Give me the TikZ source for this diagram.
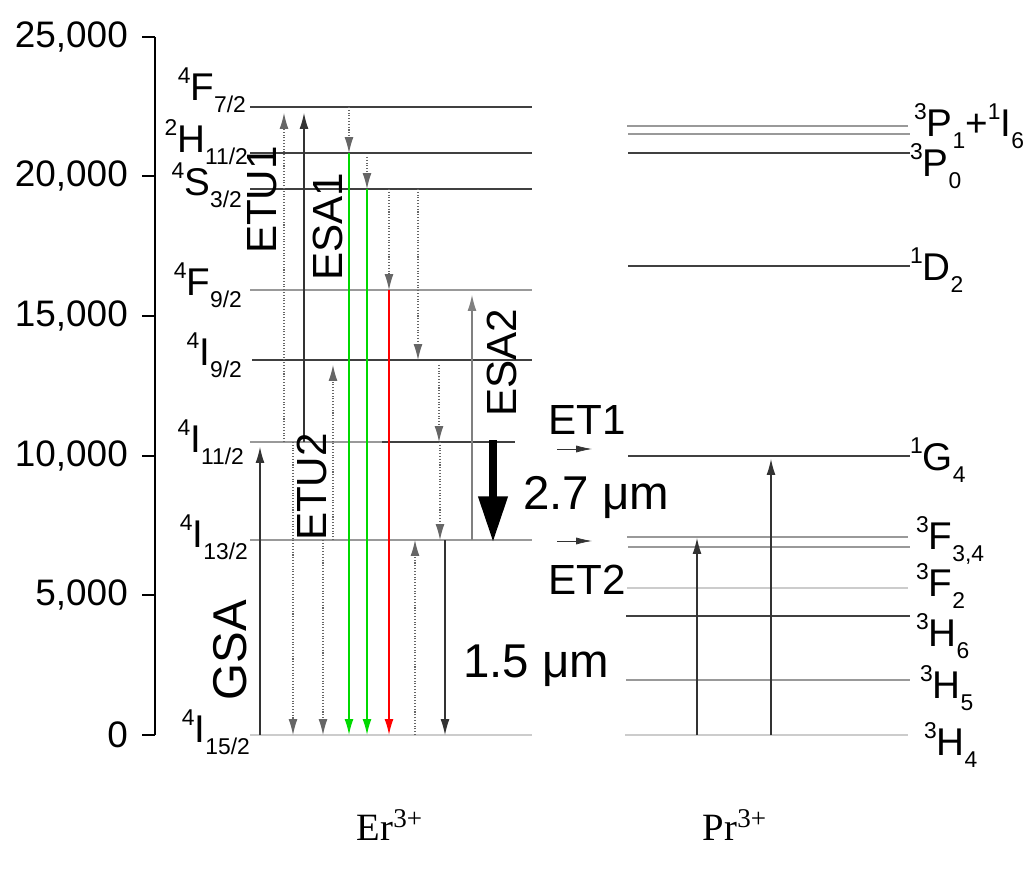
\documentclass[tikz,border=0pt]{standalone}
\usepackage{fontspec}
\setmainfont{Liberation Sans}
\newfontfamily\serif{Liberation Serif}
\usetikzlibrary{arrows.meta}
\newcommand{\lv}[3]{\raisebox{0.45em}{\fontsize{13}{13}\selectfont #1}#2\raisebox{-0.3em}{\fontsize{13}{13}\selectfont #3}}
\begin{document}
\begin{tikzpicture}[x=0.02cm,y=-0.02cm,
  lev/.style={line width=0.6pt,black!75},
  levg/.style={line width=1.4pt,black!40},
  levl/.style={line width=1.4pt,black!20},
  tip/.style={-{Latex[length=9pt,width=5pt]}},
  dots/.style={tip,densely dotted,black!60,line width=0.6pt},
  sol/.style={tip,black!80,line width=0.6pt},
  lab/.style={font=\fontsize{22}{22}\selectfont,anchor=east,inner sep=1pt},
  plab/.style={font=\fontsize{22}{22}\selectfont,anchor=west,inner sep=1pt},
  big/.style={font=\fontsize{24}{24}\selectfont},
  tk/.style={font=\fontsize{21}{21}\selectfont,anchor=east}]
\useasboundingbox (0,0) rectangle (1024,871);
\fill[white] (0,0) rectangle (1024,871);
% axis
\draw[line width=0.9pt] (155,37) -- (155,735);
\foreach \v/\y in {25{,}000/37,20{,}000/176,15{,}000/316,10{,}000/456,5{,}000/595,0/735}{
  \draw[line width=0.9pt] (142,\y) -- (155,\y);
  \node[tk] at (134,\y) {\v};}
% Er levels
\draw[lev] (250,107) -- (532,107);
\draw[lev] (250,153) -- (532,153);
\draw[lev] (250,189) -- (532,189);
\draw[levg] (250,290) -- (532,290);
\draw[lev] (252,360) -- (532,360);
\draw[levg] (250,442) -- (382,442); \draw[lev] (382,442) -- (515,442);
\draw[levg] (250,540) -- (532,540);
\draw[levl] (250,735) -- (532,735);
\node[lab] at (248,90) {\lv{4}{F}{7/2}};
\node[lab] at (250,142) {\lv{2}{H}{11/2}};
\node[lab] at (244,185) {\lv{4}{S}{3/2}};
\node[lab] at (244,285) {\lv{4}{F}{9/2}};
\node[lab] at (244,355) {\lv{4}{I}{9/2}};
\node[lab] at (246,442) {\lv{4}{I}{11/2}};
\node[lab] at (250,537) {\lv{4}{I}{13/2}};
\node[lab] at (252,732) {\lv{4}{I}{15/2}};
% Er arrows
\draw[dots] (284,442) -- (284,113);
\draw[sol] (304,442) -- (304,113);
\draw[dots] (349,107) -- (349,153);
\draw[tip,green!85!black,line width=0.8pt] (349,153) -- (349,735);
\draw[dots] (367,157) -- (367,189);
\draw[tip,green!85!black,line width=0.8pt] (367,189) -- (367,735);
\draw[dots] (389,189) -- (389,290);
\draw[tip,red,line width=0.8pt] (389,290) -- (389,735);
\draw[dots] (418,189) -- (418,360);
\draw[dots] (439,365) -- (439,442);
\draw[dots] (440,442) -- (440,540);
\draw[tip,black!50,line width=0.6pt] (472,540) -- (472,295);
\draw[-{Triangle[length=26pt,width=16pt]},line width=4pt] (493,440) -- (493,542);
\draw[dots] (333,540) -- (333,365);
\draw[sol] (260,735) -- (260,447);
\draw[dots] (293,442) -- (293,735);
\draw[dots] (323,540) -- (323,735);
\draw[dots] (415,735) -- (415,540);
\draw[sol] (445,540) -- (445,735);
% Er labels
\node[big,rotate=90] at (262,200) {ETU1};
\node[big,rotate=90] at (328,227) {ESA1};
\node[big,rotate=90] at (502,363) {ESA2};
\node[big,rotate=90] at (312,487) {ETU2};
\node[big,rotate=90,font=\fontsize{27}{27}\selectfont] at (230,650) {GSA};
\node[anchor=west,font=\fontsize{27}{27}\selectfont] at (517,497) {2.7 μm};
\node[anchor=west,font=\fontsize{27}{27}\selectfont] at (457,666) {1.5 μm};
\node[big] at (587,420) {ET1};
\node[big] at (587,580) {ET2};
\draw[-{Latex[length=9pt,width=4pt]},black!80] (557,449) -- (592,449);
\draw[-{Latex[length=9pt,width=4pt]},black!80] (557,541) -- (592,541);
% Pr levels
\draw[lev,black!40] (627,126) -- (908,126);
\draw[levg] (628,134) -- (910,134);
\draw[lev] (628,153) -- (910,153);
\draw[lev] (628,266) -- (910,266);
\draw[lev] (628,456) -- (910,456);
\draw[levg] (627,537) -- (908,537);
\draw[levg] (628,547) -- (910,547);
\draw[levl] (627,588) -- (908,588);
\draw[lev] (626,616) -- (910,616);
\draw[levg] (626,680) -- (910,680);
\draw[levl] (625,735) -- (908,735);
\node[plab] at (912,126) {\lv{3}{P}{1}+\lv{1}{I}{6}};
\node[plab] at (908,166) {\lv{3}{P}{0}};
\node[plab] at (908,270) {\lv{1}{D}{2}};
\node[plab] at (908,460) {\lv{1}{G}{4}};
\node[plab] at (914,540) {\lv{3}{F}{3,4}};
\node[plab] at (914,586) {\lv{3}{F}{2}};
\node[plab] at (914,636) {\lv{3}{H}{6}};
\node[plab] at (918,688) {\lv{3}{H}{5}};
\node[plab] at (922,745) {\lv{3}{H}{4}};
\draw[sol] (697,735) -- (697,538);
\draw[sol] (771,735) -- (771,459);
% species
\node[font=\serif\fontsize{22}{22}\selectfont] at (390,825) {Er\textsuperscript{3+}};
\node[font=\serif\fontsize{22}{22}\selectfont] at (735,825) {Pr\textsuperscript{3+}};
\end{tikzpicture}
\end{document}
